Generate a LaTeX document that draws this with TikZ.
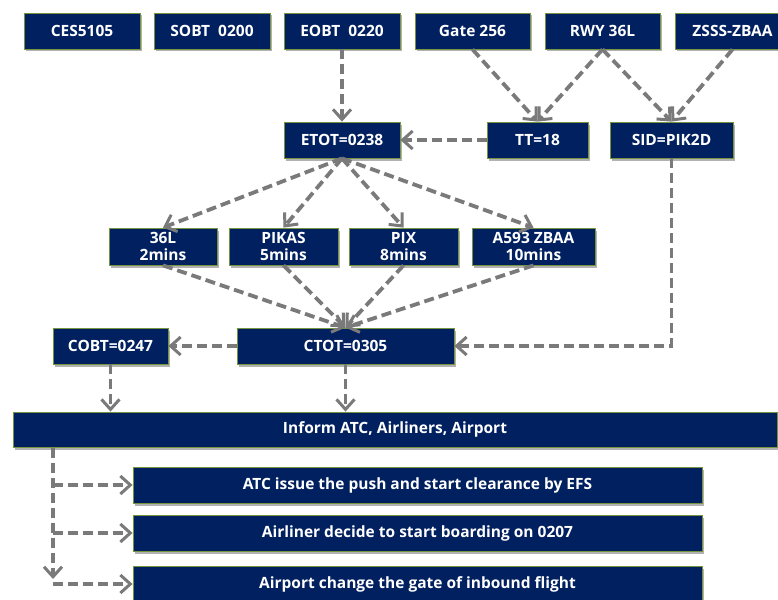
\documentclass[tikz,border=0pt]{standalone}
\usepackage{fontspec}
\setmainfont{Open Sans}
\usetikzlibrary{arrows.meta,shadows,calc}
\definecolor{navy}{HTML}{002060}
\definecolor{edgegreen}{HTML}{77933C}
\definecolor{conngray}{HTML}{7A7A7A}
\begin{document}
\begin{tikzpicture}[x=1pt,y=-1pt,
  box/.style={draw=edgegreen, line width=0.8pt, fill=navy, text=white,
    font=\fontsize{15.5}{18}\selectfont\bfseries, align=center, inner sep=0pt,
    minimum height=36pt,
    drop shadow={shadow xshift=2pt, shadow yshift=-2.5pt, fill=black, opacity=0.3}},
  twoline/.style={minimum height=37pt, font=\fontsize{15.5}{17}\selectfont\bfseries},
  conn/.style={draw=conngray, line width=3.8pt, dash pattern=on 10pt off 5pt,
    -{Straight Barb[length=10pt,width=18pt,line width=3pt]}}]
\clip (0,0) rectangle (778,599);
\fill[white] (0,0) rectangle (778,599);
% row 1
\node[box, minimum width=116pt] (ces)  at (82,31)    {CES5105};
\node[box, minimum width=116pt] (sobt) at (212,31)   {SOBT\ \ 0200};
\node[box, minimum width=116pt] (eobt) at (342,31)   {EOBT\ \ 0220};
\node[box, minimum width=115pt] (gate) at (472.5,31) {Gate 256};
\node[box, minimum width=115pt] (rwy)  at (602.5,31) {RWY 36L};
\node[box, minimum width=115pt] (zsss) at (732.5,31) {ZSSS-ZBAA};
% row 2
\node[box, minimum width=116pt] (etot) at (342,140)   {ETOT=0238};
\node[box, minimum width=101pt] (tt)   at (537.5,140) {TT=18};
\node[box, minimum width=123pt] (sid)  at (671.5,140) {SID=PIK2D};
% row 3
\node[box, twoline, minimum width=108pt] (l36)   at (163,246.5)   {36L\\2mins};
\node[box, twoline, minimum width=109pt] (pikas) at (283.5,246.5) {PIKAS\\5mins};
\node[box, twoline, minimum width=109pt] (pix)   at (403.5,246.5) {PIX\\8mins};
\node[box, twoline, minimum width=123pt] (a593)  at (533.5,246.5) {A593 ZBAA\\10mins};
% row 4
\node[box, minimum width=115pt] (cobt) at (110.5,346) {COBT=0247};
\node[box, minimum width=217pt] (ctot) at (345.5,346) {CTOT=0305};
% inform
\node[box, minimum width=764pt, minimum height=35pt] (inform) at (395,429.5) {Inform ATC, Airliners, Airport};
% bottom
\node[box, minimum width=569pt] (atc)     at (417.5,485) {ATC issue the push and start clearance by EFS};
\node[box, minimum width=569pt] (airline) at (417.5,533) {Airliner decide to start boarding on 0207};
\node[box, minimum width=569pt] (airport) at (417.5,584) {Airport change the gate of inbound flight};
% connectors
\draw[conn] (eobt.south) -- (etot.north);
\draw[conn] (gate.south) -- (tt.north);
\draw[conn] (rwy.south) -- (tt.north);
\draw[conn] (rwy.south) -- (sid.north);
\draw[conn] (zsss.south) -- (sid.north);
\draw[conn] (tt.west) -- (etot.east);
\draw[conn] (sid.south) -- (sid.south |- ctot.east) -- (ctot.east);
\draw[conn] (etot.south) -- (l36.north);
\draw[conn] (etot.south) -- (pikas.north);
\draw[conn] (etot.south) -- (pix.north);
\draw[conn] (etot.south) -- (a593.north);
\draw[conn] (l36.south) -- (ctot.north);
\draw[conn] (pikas.south) -- (ctot.north);
\draw[conn] (pix.south) -- (ctot.north);
\draw[conn] (a593.south) -- (ctot.north);
\draw[conn] (ctot.west) -- (cobt.east);
\draw[conn] (cobt.south) -- (cobt.south |- inform.north);
\draw[conn] (ctot.south) -- (ctot.south |- inform.north);
\coordinate (trunktop) at (53,447.5);
\coordinate (trunkend) at (53,579);
\draw[conn] (trunktop) -- (trunkend);
\draw[conn] (trunktop |- atc.west) -- (atc.west);
\draw[conn] (trunktop |- airline.west) -- (airline.west);
\draw[conn] (trunktop |- airport.west) -- (airport.west);
\end{tikzpicture}
\end{document}
